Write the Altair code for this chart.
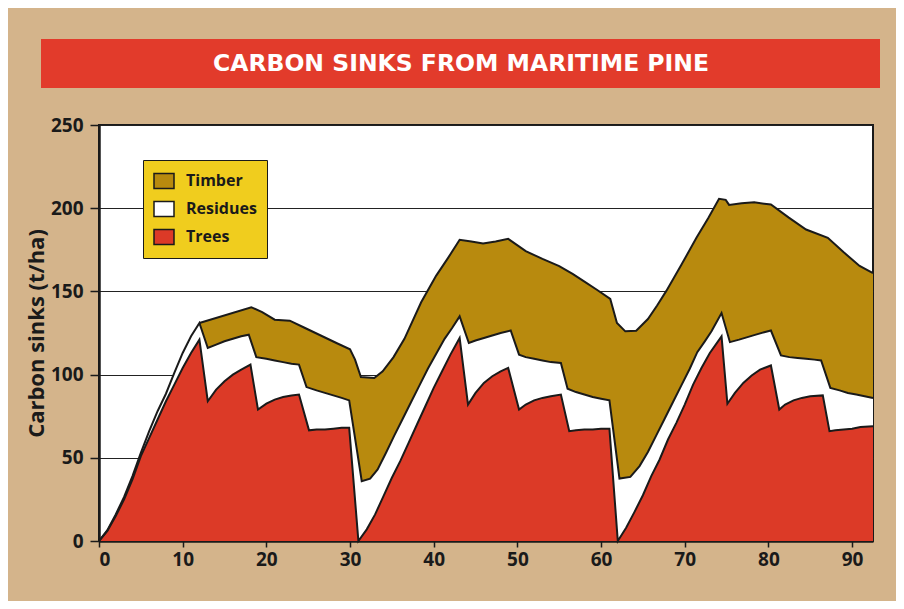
import altair as alt
import pandas as pd

# ---------------- data ----------------
title_text = "CARBON SINKS FROM MARITIME PINE"
y_title = "Carbon sinks (t/ha)"
layer_names = ["Timber", "Residues", "Trees"]
layer_colors = ["#b88a0e", "#ffffff", "#dc3a27"]
x_ticks = [0, 10, 20, 30, 40, 50, 60, 70, 80, 90]
y_ticks = [0, 50, 100, 150, 200, 250]

# Trees (top of red layer)
trees_x = [0, 1, 2, 3, 4, 5, 6, 7, 8, 9, 10, 11, 12,
           13, 14, 15, 16, 17, 18.1, 19, 20, 21, 22, 23, 23.9, 25.1, 26, 27, 28, 29, 29.9,
           31, 32, 33, 34, 35, 36, 37, 38, 39, 40, 41, 42, 43.1,
           44.1, 45, 46, 47, 48, 48.9, 50.2, 51, 52, 53, 54, 55.2, 56.2, 57, 58, 59, 60, 61,
           62, 63, 64, 65, 66, 67, 68, 69, 70, 71, 72, 73, 74.4,
           75.1, 76, 77, 78, 79, 80.3, 81.3, 82, 83, 84, 85, 86.5, 87.3, 88, 89, 90, 91, 92.5]
trees_y = [0, 6, 15, 25, 37, 51, 62, 73, 84, 94, 104, 113, 121,
           84, 91, 96, 100, 103, 106, 79, 82.5, 85, 86.5, 87.5, 88, 66.5, 67, 67, 67.5, 68, 68,
           0, 7, 16, 27, 38, 48, 59, 70, 81, 92, 102, 112, 122,
           82, 89, 95, 99, 102, 104, 79, 82, 84.5, 86, 87, 88, 66, 66.5, 67, 67, 67.5, 67.5,
           0, 8, 17.5, 27.5, 39, 49, 61, 71, 82, 94, 104, 113, 123,
           82.5, 89, 95, 99.5, 103, 105.5, 79, 82, 84.5, 86, 87, 87.5, 66, 66.5, 67, 67.5, 68.5, 69]

# Trees + residues (top of white layer)
resid_x = [0, 1, 2, 3, 4, 5, 6, 7, 8, 9, 10, 11, 12,
           13, 14, 15, 16, 17, 17.9, 18.8, 20, 21, 22, 23, 23.9, 24.8, 26, 27, 28, 29, 29.9,
           31.4, 32.4, 33.3, 34.3, 35.3, 36.3, 37.3, 38.3, 39.3, 40.3, 41.3, 42.2, 43.1,
           44.2, 45, 46, 47, 48, 49.2, 50.2, 51, 52, 53, 54, 55.2, 56, 57, 58, 59, 60, 61,
           62.2, 63.5, 64.6, 65.6, 66.6, 67.6, 68.6, 69.6, 70.6, 71.5, 72.4, 73.2, 74.4,
           75.4, 76.5, 77.5, 78.5, 79.5, 80.3, 81.5, 82.5, 83.5, 84.5, 85.5, 86.3, 87.4,
           88.5, 89.5, 90.5, 91.5, 92.5]
resid_y = [0, 6.5, 16, 26.5, 39, 53, 66, 78, 88.5, 101, 113, 123, 131,
           116, 118, 120, 121.5, 123, 124, 110.5, 109.5, 108.5, 107.5, 106.5, 106, 92.5, 90.5, 89, 87.5, 86, 84.5,
           36, 37.5, 43, 53, 63.5, 73.5, 83.5, 93.5, 103.5, 112.5, 121.5, 128, 135,
           119, 120.5, 122, 123.5, 125, 126.5, 112, 110.5, 109.5, 108.5, 107.5, 107, 91.5, 89.5, 88, 86.5, 85.5, 84.5,
           37.5, 38.5, 45, 53.5, 63.5, 73.5, 83.5, 93.5, 103.5, 113.5, 120, 126, 137,
           119.5, 121, 122.5, 124, 125.5, 126.5, 111.5, 110.5, 110, 109.5, 109, 108.5, 92,
           90.5, 89, 88, 87, 86]

# Total (top of timber layer)
total_x = [12, 18.2, 19.5, 21, 22.8, 24.5, 26.5, 28.5, 30, 30.6, 31.3, 32.9, 33.9, 35.2,
           36.5, 38.5, 40.3, 41.7, 43.1, 44.5, 45.9, 47.4, 48.9, 51, 53, 55, 56.6, 58.2,
           59.5, 61.1, 61.9, 62.9, 64.2, 65.6, 66.7, 67.8, 69.6, 71.4, 72.8, 74.1, 74.9,
           75.3, 76.8, 78.3, 80.3, 82.4, 84.5, 87.1, 89, 90.9, 92.5]
total_y = [131, 140.5, 137.5, 133, 132.4, 128.3, 123.5, 118.7, 115.2, 109, 98.5, 98, 102, 110.5,
           121.5, 143.5, 159.5, 170, 181, 180, 178.8, 180, 181.6, 174.2, 169.5, 165.2, 160.5, 155.3,
           151, 145.5, 131, 126, 126.4, 133.4, 141.5, 150.3, 166, 182.2, 194, 205.6, 205,
           202, 203, 203.5, 202.2, 194.5, 187.2, 182.2, 173.5, 165.3, 161]

# ---------------- build chart ----------------
def frame(xs, ys, name):
    return pd.DataFrame({"year": xs, "value": ys, "layer": name})

df_trees = frame(trees_x, trees_y, "Trees")
df_resid = frame(resid_x, resid_y, "Residues")
df_total = frame(total_x, total_y, "Timber")

ink = "#1a1a1a"

x_enc = alt.X("year:Q",
              scale=alt.Scale(domain=[0, 92.5], nice=False, zero=False),
              axis=alt.Axis(values=x_ticks, title="", grid=False, tickSize=6,
                            labelPadding=3, labelFontSize=19))
y_enc = alt.Y("value:Q", stack=False,
              scale=alt.Scale(domain=[0, 250], nice=False),
              axis=alt.Axis(values=y_ticks, title=y_title, grid=True, gridColor="#222222",
                            gridWidth=1.2, tickSize=9, labelPadding=7, labelFontSize=19,
                            titleX=-63, titleY=208, titleAngle=270, titleAlign="center",
                            titleBaseline="middle", titleFontSize=22, titleFontWeight="bold",
                            titleFont="Open Sans", titleColor=ink))

color_enc = alt.Color("layer:N",
                      scale=alt.Scale(domain=layer_names, range=layer_colors),
                      legend=alt.Legend(title=None, orient="none", legendX=44, legendY=35,
                                        fillColor="#f0cd1e", strokeColor=ink, padding=10,
                                        symbolType="M-1,-0.75H1V0.75H-1Z", symbolSize=400,
                                        symbolStrokeColor=ink, symbolStrokeWidth=1.5,
                                        labelFont="Open Sans", labelFontSize=16,
                                        labelFontWeight="bold", labelColor=ink,
                                        labelOffset=11, rowPadding=6,
                                        labelExpr="datum.label + '\u00a0\u00a0\u00a0\u00a0\u00a0'"))

banner_df = pd.DataFrame({"t": [title_text]})
banner = alt.Chart(banner_df).mark_rect(color="#e23b2b").encode(
    x=alt.value(-58), x2=alt.value(781), y=alt.value(-86), y2=alt.value(-37))
banner_text = alt.Chart(banner_df).mark_text(
    font="DejaVu Sans", fontSize=23.5, fontWeight="bold", color="white",
    align="center", baseline="middle").encode(
    x=alt.value(362), y=alt.value(-61), text="t:N")

def area(df):
    return alt.Chart(df).mark_area(interpolate="linear").encode(x=x_enc, y=y_enc, color=color_enc)

def outline(df):
    return alt.Chart(df).mark_line(color=ink, strokeWidth=2, interpolate="linear").encode(x=x_enc, y=y_enc)

chart = alt.layer(
    banner, banner_text,
    area(df_total), area(df_resid), area(df_trees),
    outline(df_total), outline(df_resid), outline(df_trees),
).properties(
    width=774, height=416,
    autosize=alt.AutoSizeParams(type="none"),
    padding={"left": 91, "top": 117, "right": 23, "bottom": 60},
    background="#d4b48b",
).configure_view(
    stroke=ink, strokeWidth=2, fill="white"
).configure_axis(
    domainColor=ink, domainWidth=2.5, tickColor=ink, tickWidth=1.5,
    labelFont="Open Sans", labelFontWeight="bold", labelColor=ink,
)

chart.save("out.html", embed_options={"renderer": "svg", "actions": False})
